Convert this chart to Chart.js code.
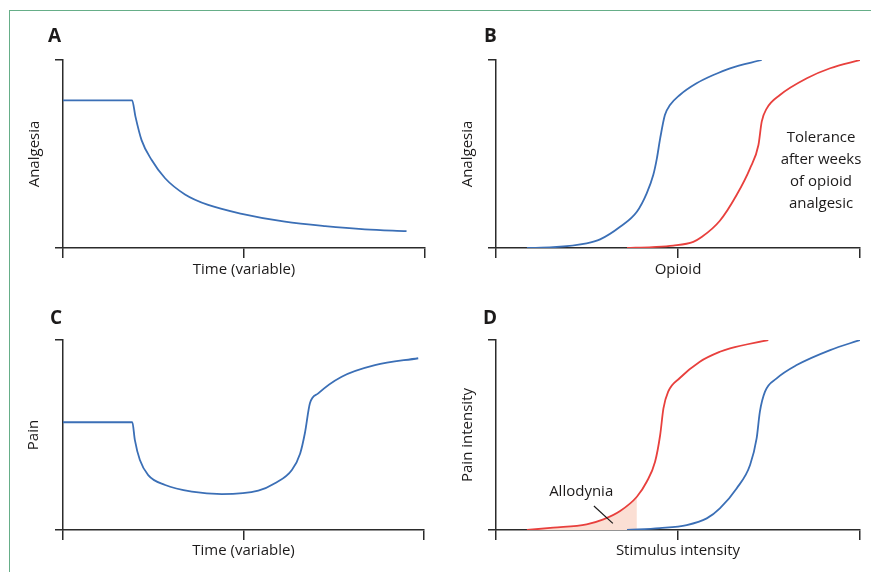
<!DOCTYPE html>
<html>
<head>
<meta charset="utf-8">
<script src="https://cdn.jsdelivr.net/npm/chart.js@4.4.1/dist/chart.umd.min.js"></script>
<style>
  html, body { margin: 0; padding: 0; background: #fff; }
  body { width: 871px; height: 572px; position: relative; overflow: hidden; }
  .frame {
    position: absolute; left: 9px; top: 10px; width: 900px; height: 600px;
    border-left: 1.5px solid #66ae88; border-top: 1.5px solid #66ae88;
  }
  canvas { position: absolute; }
</style>
</head>
<body>
<div class="frame"></div>
<canvas id="chartA" width="435" height="285" style="left:0;top:0"></canvas>
<canvas id="chartB" width="436" height="285" style="left:435px;top:0"></canvas>
<canvas id="chartC" width="435" height="287" style="left:0;top:285px"></canvas>
<canvas id="chartD" width="436" height="287" style="left:435px;top:285px"></canvas>
<script>
// Panel A: analgesia over time (tolerance)
const timeA = [0, 0.191, 0.200, 0.217, 0.245, 0.282, 0.337, 0.401, 0.494, 0.613, 0.724, 0.834, 0.949];
const analgesiaA = [0.785, 0.785, 0.700, 0.574, 0.468, 0.371, 0.285, 0.229, 0.182, 0.140, 0.116, 0.099, 0.090];

// Panel B: dose-response, before and after weeks of opioid
const opioidNaive = [0.085, 0.157, 0.249, 0.286, 0.341, 0.387, 0.414, 0.432, 0.442, 0.451, 0.464, 0.478, 0.505, 0.551, 0.597, 0.643, 0.730];
const analgesiaNaive = [0, 0.004, 0.025, 0.046, 0.113, 0.193, 0.291, 0.388, 0.477, 0.583, 0.707, 0.760, 0.814, 0.876, 0.920, 0.956, 1.0];
const opioidTolerant = [0.360, 0.430, 0.487, 0.542, 0.565, 0.615, 0.661, 0.698, 0.721, 0.730, 0.744, 0.780, 0.854, 0.918, 1.0];
const analgesiaTolerant = [0, 0.005, 0.013, 0.033, 0.058, 0.145, 0.282, 0.424, 0.548, 0.672, 0.743, 0.814, 0.903, 0.956, 1.0];

// Panel C: pain over time (hyperalgesia)
const timeC = [0, 0.192, 0.199, 0.213, 0.236, 0.283, 0.357, 0.440, 0.541, 0.587, 0.634, 0.657, 0.670, 0.684, 0.707, 0.772, 0.864, 0.984];
const painC = [0.567, 0.567, 0.474, 0.368, 0.289, 0.237, 0.202, 0.189, 0.207, 0.246, 0.316, 0.403, 0.509, 0.667, 0.719, 0.807, 0.868, 0.904];

// Panel D: stimulus-response, sensitised (red) vs normal (blue)
const stimulusSensitised = [0.085, 0.157, 0.249, 0.295, 0.341, 0.387, 0.414, 0.437, 0.451, 0.460, 0.473, 0.505, 0.560, 0.615, 0.643, 0.748];
const painSensitised = [0, 0.012, 0.030, 0.056, 0.100, 0.175, 0.254, 0.359, 0.500, 0.640, 0.728, 0.800, 0.886, 0.938, 0.956, 1.0];
const stimulusNormal = [0.360, 0.450, 0.524, 0.579, 0.615, 0.661, 0.698, 0.716, 0.725, 0.739, 0.771, 0.826, 0.918, 1.0];
const painNormal = [0, 0.010, 0.026, 0.061, 0.114, 0.219, 0.342, 0.482, 0.623, 0.728, 0.798, 0.868, 0.947, 1.0];
const allodyniaEdge = 0.387;
const leaderX = [0.269, 0.321];
const leaderY = [0.126, 0.035];

const AXIS = "#2b2b2b";
const INK = "#1c1a1a";
const BLUE = "#3b6fb6";
const RED = "#e8403d";
const FONT = "'Open Sans', sans-serif";

function pts(xs, ys) {
  return xs.map((x, i) => ({ x: x, y: ys[i] }));
}

function curve(xs, ys, color) {
  return {
    data: pts(xs, ys),
    borderColor: color,
    borderWidth: 1.8,
    pointRadius: 0,
    cubicInterpolationMode: "monotone",
    fill: false,
    order: 1,
  };
}

// panel letter and free text notes
const labelPlugin = {
  id: "labels",
  afterDraw(chart, args, opts) {
    const ctx = chart.ctx;
    ctx.save();
    ctx.fillStyle = INK;
    ctx.font = "bold 19px " + FONT;
    ctx.textAlign = "left";
    ctx.textBaseline = "alphabetic";
    ctx.fillText(opts.letter, opts.letterX, opts.letterY);
    ctx.font = "15px " + FONT;
    ctx.textAlign = "center";
    ctx.textBaseline = "middle";
    (opts.notes || []).forEach((n) => {
      ctx.fillText(n.text, chart.scales.x.getPixelForValue(n.x), chart.scales.y.getPixelForValue(n.y));
    });
    ctx.restore();
  },
};

function makePanel(id, p) {
  new Chart(document.getElementById(id), {
    type: "line",
    data: { datasets: p.datasets },
    plugins: [labelPlugin],
    options: {
      responsive: false,
      animation: false,
      devicePixelRatio: 1,
      layout: { padding: { top: p.top, right: p.right, left: 0, bottom: 0 } },
      plugins: {
        legend: { display: false },
        tooltip: { enabled: false },
        labels: { letter: p.letter, letterX: p.letterX, letterY: p.letterY, notes: p.notes },
      },
      scales: {
        x: {
          type: "linear",
          min: 0,
          max: 1,
          ticks: { display: false, stepSize: 0.5 },
          grid: { drawOnChartArea: false, color: AXIS, lineWidth: 1.5, tickLength: 10 },
          border: { color: AXIS, width: 1.5 },
          title: {
            display: true,
            text: p.xTitle,
            color: INK,
            font: { family: FONT, size: 15 },
            padding: { top: 0, bottom: p.xTitlePad },
          },
          afterFit: (s) => { s.height = p.xHeight; },
        },
        y: {
          type: "linear",
          min: 0,
          max: 1,
          ticks: { display: false, stepSize: 1 },
          grid: { drawOnChartArea: false, color: AXIS, lineWidth: 1.5, tickLength: 8 },
          border: { color: AXIS, width: 1.5 },
          title: {
            display: true,
            text: p.yTitle,
            color: INK,
            font: { family: FONT, size: 15 },
            padding: { top: p.yTitlePad, bottom: 0 },
          },
          afterFit: (s) => { s.width = p.yWidth; },
        },
      },
    },
  });
}

makePanel("chartA", {
  datasets: [curve(timeA, analgesiaA, BLUE)],
  xTitle: "Time (variable)", yTitle: "Analgesia",
  top: 60, right: 10, yWidth: 63, xHeight: 37, yTitlePad: 26, xTitlePad: 6,
  letter: "A", letterX: 48, letterY: 42,
});

makePanel("chartB", {
  datasets: [
    curve(opioidNaive, analgesiaNaive, BLUE),
    curve(opioidTolerant, analgesiaTolerant, RED),
  ],
  xTitle: "Opioid", yTitle: "Analgesia",
  top: 60, right: 11, yWidth: 61, xHeight: 37, yTitlePad: 24, xTitlePad: 6,
  letter: "B", letterX: 49, letterY: 42,
  notes: [
    { text: "Tolerance", x: 0.893, y: 0.588 },
    { text: "after weeks", x: 0.893, y: 0.468 },
    { text: "of opioid", x: 0.893, y: 0.351 },
    { text: "analgesic", x: 0.893, y: 0.237 },
  ],
});

makePanel("chartC", {
  datasets: [curve(timeC, painC, BLUE)],
  xTitle: "Time (variable)", yTitle: "Pain",
  top: 55, right: 11, yWidth: 63, xHeight: 42, yTitlePad: 25, xTitlePad: 12,
  letter: "C", letterX: 50, letterY: 39,
});

// shaded allodynia area under the sensitised curve
const fillIdx = stimulusSensitised.map((x, i) => i).filter((i) => stimulusSensitised[i] <= allodyniaEdge);
const allodyniaFill = {
  data: pts(fillIdx.map((i) => stimulusSensitised[i]), fillIdx.map((i) => painSensitised[i])),
  borderWidth: 0,
  pointRadius: 0,
  cubicInterpolationMode: "monotone",
  fill: "origin",
  backgroundColor: "#fbdfd4",
  order: 5,
};
const leader = {
  data: pts(leaderX, leaderY),
  borderColor: INK,
  borderWidth: 1.2,
  pointRadius: 0,
  tension: 0,
  order: 0,
};

makePanel("chartD", {
  datasets: [
    allodyniaFill,
    curve(stimulusSensitised, painSensitised, RED),
    curve(stimulusNormal, painNormal, BLUE),
    leader,
  ],
  xTitle: "Stimulus intensity", yTitle: "Pain intensity",
  top: 55, right: 11, yWidth: 61, xHeight: 42, yTitlePad: 24, xTitlePad: 12,
  letter: "D", letterX: 48, letterY: 39,
  notes: [{ text: "Allodynia", x: 0.234, y: 0.2 }],
});
</script>
</body>
</html>
